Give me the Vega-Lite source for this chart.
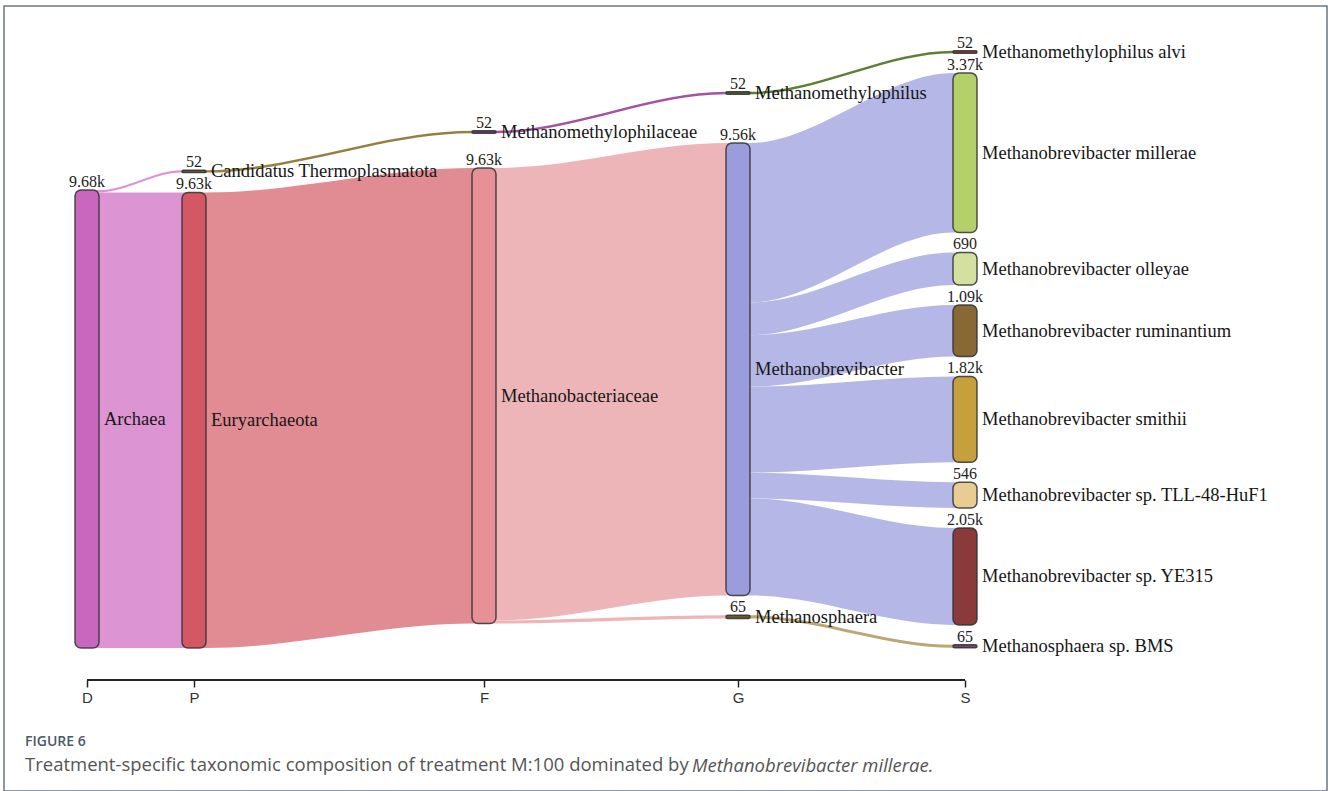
{
  "$schema": "https://vega.github.io/schema/vega-lite/v6.json",
  "width": 1323,
  "height": 785,
  "autosize": "none",
  "padding": {"left": 4, "top": 6, "right": 1, "bottom": 0},
  "background": "white",
  "config": {"view": {"stroke": "#6b7580", "strokeWidth": 1.5}},
  "title": {
    "text": "FIGURE 6",
    "subtitle": "Treatment-specific taxonomic composition of treatment M:100 dominated by",
    "orient": "bottom",
    "anchor": "start",
    "frame": "group",
    "offset": -56,
    "dx": 21,
    "font": "Open Sans",
    "fontSize": 14,
    "fontWeight": 600,
    "color": "#4a596b",
    "subtitleFont": "Open Sans",
    "subtitleFontSize": 18.5,
    "subtitleColor": "#555555",
    "subtitlePadding": 7
  },
  "datasets": {
    "nodes": [
      {"name": "Archaea", "level": "D", "x": 0.83, "y0": 3889, "y1": 13568, "value": 9679},
      {"name": "Candidatus Thermoplasmatota", "level": "P", "x": 1.90, "y0": 3469, "y1": 3521, "value": 52},
      {"name": "Euryarchaeota", "level": "P", "x": 1.90, "y0": 3941, "y1": 13568, "value": 9627},
      {"name": "Methanomethylophilaceae", "level": "F", "x": 4.80, "y0": 2637, "y1": 2689, "value": 52},
      {"name": "Methanobacteriaceae", "level": "F", "x": 4.80, "y0": 3424, "y1": 13051, "value": 9627},
      {"name": "Methanomethylophilus", "level": "G", "x": 7.34, "y0": 1813, "y1": 1865, "value": 52},
      {"name": "Methanobrevibacter", "level": "G", "x": 7.34, "y0": 2896, "y1": 12458, "value": 9562},
      {"name": "Methanosphaera", "level": "G", "x": 7.34, "y0": 12878, "y1": 12943, "value": 65},
      {"name": "Methanomethylophilus alvi", "level": "S", "x": 9.61, "y0": 946, "y1": 998, "value": 52},
      {"name": "Methanobrevibacter millerae", "level": "S", "x": 9.61, "y0": 1418, "y1": 4788, "value": 3370},
      {"name": "Methanobrevibacter olleyae", "level": "S", "x": 9.61, "y0": 5208, "y1": 5898, "value": 690},
      {"name": "Methanobrevibacter ruminantium", "level": "S", "x": 9.61, "y0": 6318, "y1": 7408, "value": 1090},
      {"name": "Methanobrevibacter smithii", "level": "S", "x": 9.61, "y0": 7828, "y1": 9644, "value": 1816},
      {"name": "Methanobrevibacter sp. TLL-48-HuF1", "level": "S", "x": 9.61, "y0": 10064, "y1": 10610, "value": 546},
      {"name": "Methanobrevibacter sp. YE315", "level": "S", "x": 9.61, "y0": 11030, "y1": 13080, "value": 2050},
      {"name": "Methanosphaera sp. BMS", "level": "S", "x": 9.61, "y0": 13500, "y1": 13565, "value": 65}
    ],
    "links": [
      {"link": 1, "src": "Archaea", "x": 0.83, "y0": 3889, "y1": 3941},
      {"link": 1, "src": "Archaea", "x": 0.95, "y0": 3889, "y1": 3941},
      {"link": 1, "src": "Archaea", "x": 1.78, "y0": 3469, "y1": 3521},
      {"link": 1, "src": "Archaea", "x": 1.90, "y0": 3469, "y1": 3521},
      {"link": 2, "src": "Archaea", "x": 0.83, "y0": 3941, "y1": 13568},
      {"link": 2, "src": "Archaea", "x": 0.95, "y0": 3941, "y1": 13568},
      {"link": 2, "src": "Archaea", "x": 1.78, "y0": 3941, "y1": 13568},
      {"link": 2, "src": "Archaea", "x": 1.90, "y0": 3941, "y1": 13568},
      {"link": 3, "src": "Candidatus Thermoplasmatota", "x": 1.90, "y0": 3469, "y1": 3521},
      {"link": 3, "src": "Candidatus Thermoplasmatota", "x": 2.02, "y0": 3469, "y1": 3521},
      {"link": 3, "src": "Candidatus Thermoplasmatota", "x": 4.68, "y0": 2637, "y1": 2689},
      {"link": 3, "src": "Candidatus Thermoplasmatota", "x": 4.80, "y0": 2637, "y1": 2689},
      {"link": 4, "src": "Euryarchaeota", "x": 1.90, "y0": 3941, "y1": 13568},
      {"link": 4, "src": "Euryarchaeota", "x": 2.02, "y0": 3941, "y1": 13568},
      {"link": 4, "src": "Euryarchaeota", "x": 4.68, "y0": 3424, "y1": 13051},
      {"link": 4, "src": "Euryarchaeota", "x": 4.80, "y0": 3424, "y1": 13051},
      {"link": 5, "src": "Methanomethylophilaceae", "x": 4.80, "y0": 2637, "y1": 2689},
      {"link": 5, "src": "Methanomethylophilaceae", "x": 4.92, "y0": 2637, "y1": 2689},
      {"link": 5, "src": "Methanomethylophilaceae", "x": 7.22, "y0": 1813, "y1": 1865},
      {"link": 5, "src": "Methanomethylophilaceae", "x": 7.34, "y0": 1813, "y1": 1865},
      {"link": 6, "src": "Methanobacteriaceae", "x": 4.80, "y0": 3424, "y1": 12986},
      {"link": 6, "src": "Methanobacteriaceae", "x": 4.92, "y0": 3424, "y1": 12986},
      {"link": 6, "src": "Methanobacteriaceae", "x": 7.22, "y0": 2896, "y1": 12458},
      {"link": 6, "src": "Methanobacteriaceae", "x": 7.34, "y0": 2896, "y1": 12458},
      {"link": 7, "src": "Methanobacteriaceae", "x": 4.80, "y0": 12986, "y1": 13051},
      {"link": 7, "src": "Methanobacteriaceae", "x": 4.92, "y0": 12986, "y1": 13051},
      {"link": 7, "src": "Methanobacteriaceae", "x": 7.22, "y0": 12878, "y1": 12943},
      {"link": 7, "src": "Methanobacteriaceae", "x": 7.34, "y0": 12878, "y1": 12943},
      {"link": 8, "src": "Methanomethylophilus", "x": 7.34, "y0": 1813, "y1": 1865},
      {"link": 8, "src": "Methanomethylophilus", "x": 7.46, "y0": 1813, "y1": 1865},
      {"link": 8, "src": "Methanomethylophilus", "x": 9.49, "y0": 946, "y1": 998},
      {"link": 8, "src": "Methanomethylophilus", "x": 9.61, "y0": 946, "y1": 998},
      {"link": 9, "src": "Methanobrevibacter", "x": 7.34, "y0": 2896, "y1": 6266},
      {"link": 9, "src": "Methanobrevibacter", "x": 7.46, "y0": 2896, "y1": 6266},
      {"link": 9, "src": "Methanobrevibacter", "x": 9.49, "y0": 1418, "y1": 4788},
      {"link": 9, "src": "Methanobrevibacter", "x": 9.61, "y0": 1418, "y1": 4788},
      {"link": 10, "src": "Methanobrevibacter", "x": 7.34, "y0": 6266, "y1": 6956},
      {"link": 10, "src": "Methanobrevibacter", "x": 7.46, "y0": 6266, "y1": 6956},
      {"link": 10, "src": "Methanobrevibacter", "x": 9.49, "y0": 5208, "y1": 5898},
      {"link": 10, "src": "Methanobrevibacter", "x": 9.61, "y0": 5208, "y1": 5898},
      {"link": 11, "src": "Methanobrevibacter", "x": 7.34, "y0": 6956, "y1": 8046},
      {"link": 11, "src": "Methanobrevibacter", "x": 7.46, "y0": 6956, "y1": 8046},
      {"link": 11, "src": "Methanobrevibacter", "x": 9.49, "y0": 6318, "y1": 7408},
      {"link": 11, "src": "Methanobrevibacter", "x": 9.61, "y0": 6318, "y1": 7408},
      {"link": 12, "src": "Methanobrevibacter", "x": 7.34, "y0": 8046, "y1": 9862},
      {"link": 12, "src": "Methanobrevibacter", "x": 7.46, "y0": 8046, "y1": 9862},
      {"link": 12, "src": "Methanobrevibacter", "x": 9.49, "y0": 7828, "y1": 9644},
      {"link": 12, "src": "Methanobrevibacter", "x": 9.61, "y0": 7828, "y1": 9644},
      {"link": 13, "src": "Methanobrevibacter", "x": 7.34, "y0": 9862, "y1": 10408},
      {"link": 13, "src": "Methanobrevibacter", "x": 7.46, "y0": 9862, "y1": 10408},
      {"link": 13, "src": "Methanobrevibacter", "x": 9.49, "y0": 10064, "y1": 10610},
      {"link": 13, "src": "Methanobrevibacter", "x": 9.61, "y0": 10064, "y1": 10610},
      {"link": 14, "src": "Methanobrevibacter", "x": 7.34, "y0": 10408, "y1": 12458},
      {"link": 14, "src": "Methanobrevibacter", "x": 7.46, "y0": 10408, "y1": 12458},
      {"link": 14, "src": "Methanobrevibacter", "x": 9.49, "y0": 11030, "y1": 13080},
      {"link": 14, "src": "Methanobrevibacter", "x": 9.61, "y0": 11030, "y1": 13080},
      {"link": 15, "src": "Methanosphaera", "x": 7.34, "y0": 12878, "y1": 12943},
      {"link": 15, "src": "Methanosphaera", "x": 7.46, "y0": 12878, "y1": 12943},
      {"link": 15, "src": "Methanosphaera", "x": 9.49, "y0": 13500, "y1": 13565},
      {"link": 15, "src": "Methanosphaera", "x": 9.61, "y0": 13500, "y1": 13565}
    ]
  },
  "encoding": {
    "x": {
      "field": "x",
      "type": "quantitative",
      "scale": {"domain": [0, 13.23], "nice": false, "zero": false, "padding": 0},
      "axis": {
        "values": [0.83, 1.9, 4.8, 7.34, 9.61],
        "labelExpr": "datum.value < 1.5 ? 'D' : datum.value < 3 ? 'P' : datum.value < 6 ? 'F' : datum.value < 8.5 ? 'G' : 'S'",
        "title": null,
        "grid": false,
        "domain": false,
        "ticks": true,
        "tickSize": 7,
        "tickWidth": 1.5,
        "tickColor": "#222222",
        "labelFont": "Liberation Sans",
        "labelFontSize": 15,
        "labelColor": "#333333",
        "labelPadding": 3,
        "offset": -111
      }
    },
    "y": {
      "field": "y0",
      "type": "quantitative",
      "stack": null,
      "scale": {"domain": [0, 16590], "reverse": true, "nice": false, "zero": false},
      "axis": null
    }
  },
  "layer": [
    {
      "data": {"name": "links"},
      "mark": {"type": "area", "interpolate": "monotone", "orient": "vertical"},
      "encoding": {
        "y2": {"field": "y1"},
        "detail": {"field": "link", "type": "nominal"},
        "color": {
          "field": "src",
          "type": "nominal",
          "legend": null,
          "scale": {
            "domain": ["Archaea", "Candidatus Thermoplasmatota", "Euryarchaeota", "Methanomethylophilaceae", "Methanobacteriaceae", "Methanomethylophilus", "Methanobrevibacter", "Methanosphaera"],
            "range": ["#dc95d2", "#94803f", "#e18b92", "#a452a2", "#eeb5b8", "#5e7f36", "#b5b7e6", "#bca675"]
          }
        }
      }
    },
    {
      "data": {"values": [{"from": 0.83, "to": 9.61, "at": 14244}]},
      "mark": {"type": "rule", "color": "#222222", "strokeWidth": 2},
      "encoding": {
        "x": {"field": "from", "type": "quantitative"},
        "x2": {"field": "to"},
        "y": {"field": "at", "type": "quantitative"}
      }
    },
    {
      "data": {"name": "nodes"},
      "mark": {"type": "bar", "orient": "vertical", "width": 24, "cornerRadius": 6, "stroke": "#333333", "strokeWidth": 1.5, "strokeOpacity": 0.85, "fillOpacity": 1},
      "encoding": {
        "y2": {"field": "y1"},
        "color": {
          "field": "name",
          "type": "nominal",
          "legend": null,
          "scale": {
            "domain": ["Archaea", "Candidatus Thermoplasmatota", "Euryarchaeota", "Methanomethylophilaceae", "Methanobacteriaceae", "Methanomethylophilus", "Methanobrevibacter", "Methanosphaera", "Methanomethylophilus alvi", "Methanobrevibacter millerae", "Methanobrevibacter olleyae", "Methanobrevibacter ruminantium", "Methanobrevibacter smithii", "Methanobrevibacter sp. TLL-48-HuF1", "Methanobrevibacter sp. YE315", "Methanosphaera sp. BMS"],
            "range": ["#c867bd", "#6b5a25", "#d45863", "#7a3a7a", "#e79097", "#4a6a2a", "#9a9cdc", "#6b5a25", "#9a3a3a", "#b3d06b", "#d3e0a0", "#886834", "#c6a03c", "#e8cc92", "#8a3a3a", "#6e4a6e"]
          }
        }
      }
    },
    {
      "data": {"name": "nodes"},
      "mark": {"type": "text", "align": "center", "baseline": "alphabetic", "dy": -3, "font": "Liberation Serif", "fontSize": 16, "color": "#222222"},
      "encoding": {
        "text": {"field": "value", "type": "quantitative", "format": ".3~s"}
      }
    },
    {
      "data": {"name": "nodes"},
      "transform": [{"calculate": "(datum.y0 + datum.y1) / 2", "as": "ym"}],
      "mark": {"type": "text", "align": "left", "baseline": "middle", "dx": 17, "font": "Liberation Serif", "fontSize": 18.5, "color": "#161616"},
      "encoding": {
        "y": {"field": "ym", "type": "quantitative"},
        "text": {"field": "name", "type": "nominal"}
      }
    },
    {
      "data": {"values": [{"note": "Methanobrevibacter millerae.", "px": 6.88, "py": 16062}]},
      "mark": {"type": "text", "align": "left", "baseline": "middle", "font": "Open Sans", "fontSize": 18.5, "fontStyle": "italic", "color": "#555555"},
      "encoding": {
        "x": {"field": "px", "type": "quantitative"},
        "y": {"field": "py", "type": "quantitative"},
        "text": {"field": "note", "type": "nominal"}
      }
    }
  ],
  "resolve": {"scale": {"color": "independent"}}
}
